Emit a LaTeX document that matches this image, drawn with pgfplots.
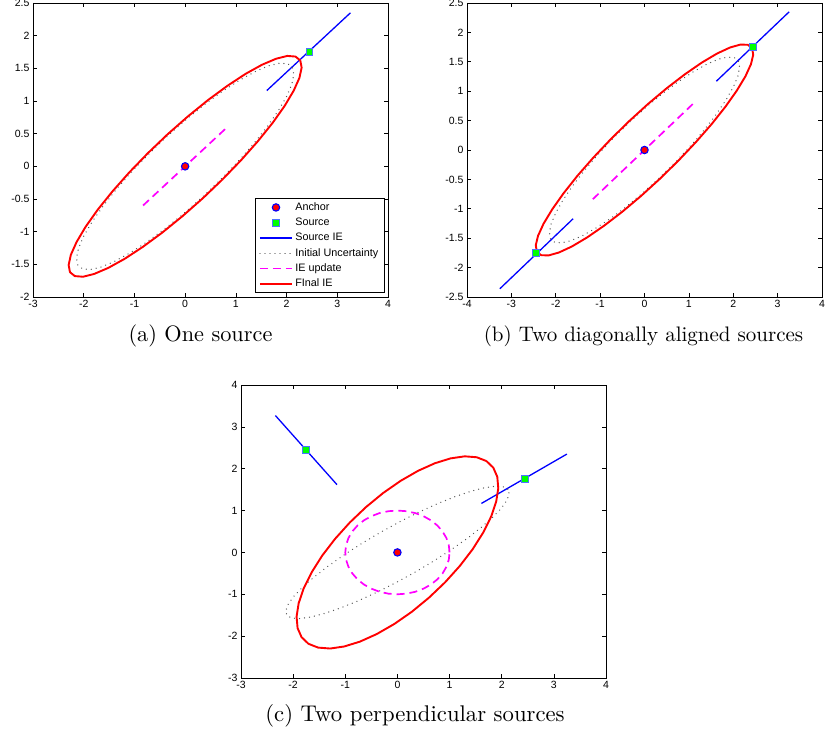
\documentclass[border=0pt]{standalone}
\usepackage{pgfplots}
\pgfplotsset{compat=1.18}
\usepackage{pgfplotstable}
\usepackage{fontspec}
\setsansfont{Liberation Sans}
\definecolor{mred}{rgb}{1,0,0}
\definecolor{mblue}{rgb}{0,0,1}
\definecolor{mmag}{rgb}{1,0,1}
\definecolor{mgreen}{rgb}{0,1,0}
\definecolor{medge}{rgb}{0.3,0.45,1}

% initial uncertainty ellipse
\pgfplotstableread{
x y
2.117 1.510
2.026 1.569
1.874 1.580
1.665 1.544
1.405 1.460
1.103 1.332
0.767 1.164
0.407 0.960
0.036 0.727
-0.337 0.472
-0.699 0.203
-1.040 -0.073
-1.350 -0.346
-1.619 -0.609
-1.838 -0.853
-2.002 -1.071
-2.104 -1.257
-2.143 -1.405
-2.117 -1.510
-2.026 -1.569
-1.874 -1.580
-1.665 -1.544
-1.405 -1.460
-1.103 -1.332
-0.767 -1.164
-0.407 -0.960
-0.036 -0.727
0.337 -0.472
0.699 -0.203
1.040 0.073
1.350 0.346
1.619 0.609
1.838 0.853
2.002 1.071
2.104 1.257
2.143 1.405
2.117 1.510
}\initell

\pgfplotsset{
  myax/.style={scale only axis, tick align=inside, tick pos=both,
    major tick length=4pt, axis line style={line width=0.8pt},
    every tick/.style={black, line width=0.6pt},
    ticklabel style={font=\sffamily\fontsize{10.5}{12}\selectfont},
    /pgf/number format/assume math mode=true,
    legend image code/.code={\draw[mark repeat=2,mark phase=2,##1] plot coordinates {(0pt,0pt) (16pt,0pt) (32pt,0pt)};}},
  anchorst/.style={only marks, mark=*, mark size=3.7pt, mark options={fill=mred, draw=mblue, line width=1.1pt}},
  sourcest/.style={only marks, mark=square*, mark size=3.3pt, mark options={fill=mgreen, draw=medge, line width=1pt}},
  sieS/.style={mblue, line width=1.3pt},
  initS/.style={black!65, line width=1.4pt, line cap=round, dash pattern=on 0.01pt off 5pt},
  updS/.style={mmag, line width=1.7pt, dash pattern=on 8pt off 5pt},
  finS/.style={mred, line width=1.9pt, line join=round},
}

\begin{document}
\begin{tikzpicture}
\useasboundingbox (0pt,0pt) rectangle (827pt,736pt);

% (a)
\begin{axis}[myax, at={(33pt,439pt)}, anchor=south west, width=355pt, height=294pt,
  xmin=-3, xmax=4, ymin=-2, ymax=2.5, xtick={-3,-2,-1,0,1,2,3,4},
  ytick={-2,-1.5,-1,-0.5,0,0.5,1,1.5,2,2.5},
  legend cell align=left,
  legend style={at={(0.9915,0.0136)}, anchor=south east, draw=black, line width=0.8pt,
    font=\sffamily\fontsize{10.8}{12}\selectfont,
    nodes={inner sep=2.4pt, text height=8pt, text depth=2.5pt},
    inner xsep=4pt, inner ysep=1pt, row sep=0pt}]
\addplot[anchorst] coordinates {(0,0)}; \addlegendentry{Anchor}
\addplot[sourcest] coordinates {(2.45,1.75)}; \addlegendentry{Source}
\addplot[sieS] coordinates {(1.61,1.16) (3.26,2.35)}; \addlegendentry{Source IE}
\addplot[initS] table {\initell}; \addlegendentry{Initial Uncertainty}
\addplot[updS] coordinates {(-0.83,-0.6) (0.83,0.6)}; \addlegendentry{IE update}
\addplot[finS] coordinates {(2.271,1.620) (2.176,1.680) (2.015,1.690) (1.793,1.647) (1.516,1.555) (1.193,1.416) (0.834,1.233) (0.449,1.013) (0.051,0.762) (-0.348,0.489) (-0.737,0.200) (-1.104,-0.095) (-1.437,-0.387) (-1.727,-0.667) (-1.964,-0.927) (-2.141,-1.159) (-2.254,-1.355) (-2.297,-1.511) (-2.271,-1.620) (-2.176,-1.680) (-2.015,-1.690) (-1.793,-1.647) (-1.516,-1.555) (-1.193,-1.416) (-0.834,-1.233) (-0.449,-1.013) (-0.051,-0.762) (0.348,-0.489) (0.737,-0.200) (1.104,0.095) (1.437,0.387) (1.727,0.667) (1.964,0.927) (2.141,1.159) (2.254,1.355) (2.297,1.511) (2.271,1.620)}; \addlegendentry{FInal IE}
\end{axis}

% (b)
\begin{axis}[myax, at={(467pt,439pt)}, anchor=south west, width=355pt, height=294pt,
  xmin=-4, xmax=4, ymin=-2.5, ymax=2.5, xtick={-4,-3,-2,-1,0,1,2,3,4},
  ytick={-2.5,-2,-1.5,-1,-0.5,0,0.5,1,1.5,2,2.5}]
\addplot[anchorst] coordinates {(0,0)};
\addplot[sourcest] coordinates {(2.45,1.75) (-2.45,-1.75)};
\addplot[sieS] coordinates {(1.62,1.17) (3.26,2.35)};
\addplot[sieS] coordinates {(-1.61,-1.17) (-3.26,-2.36)};
\addplot[initS] table {\initell};
\addplot[updS] coordinates {(-1.165,-0.837) (1.165,0.837)};
\addplot[finS] coordinates {(2.426,1.731) (2.329,1.789) (2.161,1.793) (1.927,1.743) (1.634,1.640) (1.293,1.487) (0.911,1.288) (0.502,1.051) (0.078,0.782) (-0.348,0.489) (-0.764,0.181) (-1.157,-0.133) (-1.515,-0.442) (-1.826,-0.738) (-2.082,-1.012) (-2.275,-1.254) (-2.399,-1.459) (-2.450,-1.619) (-2.426,-1.731) (-2.329,-1.789) (-2.161,-1.793) (-1.927,-1.743) (-1.634,-1.640) (-1.293,-1.487) (-0.911,-1.288) (-0.502,-1.051) (-0.078,-0.782) (0.348,-0.489) (0.764,-0.181) (1.157,0.133) (1.515,0.442) (1.826,0.738) (2.082,1.012) (2.275,1.254) (2.399,1.459) (2.450,1.619) (2.426,1.731)};
\end{axis}

% (c)
\begin{axis}[myax, at={(241pt,58pt)}, anchor=south west, width=365pt, height=293pt,
  xmin=-3, xmax=4, ymin=-3, ymax=4, xtick={-3,-2,-1,0,1,2,3,4},
  ytick={-3,-2,-1,0,1,2,3,4}]
\addplot[anchorst] coordinates {(0,0)};
\addplot[sourcest] coordinates {(2.45,1.75) (-1.75,2.44)};
\addplot[sieS] coordinates {(1.61,1.17) (3.25,2.35)};
\addplot[sieS] coordinates {(-1.16,1.62) (-2.34,3.27)};
\addplot[initS] table {\initell};
\addplot[updS] coordinates {(1,0) (0.985,0.174) (0.940,0.342) (0.866,0.5) (0.766,0.643) (0.643,0.766) (0.5,0.866) (0.342,0.940) (0.174,0.985) (0,1) (-0.174,0.985) (-0.342,0.940) (-0.5,0.866) (-0.643,0.766) (-0.766,0.643) (-0.866,0.5) (-0.940,0.342) (-0.985,0.174) (-1,0) (-0.985,-0.174) (-0.940,-0.342) (-0.866,-0.5) (-0.766,-0.643) (-0.643,-0.766) (-0.5,-0.866) (-0.342,-0.940) (-0.174,-0.985) (0,-1) (0.174,-0.985) (0.342,-0.940) (0.5,-0.866) (0.643,-0.766) (0.766,-0.643) (0.866,-0.5) (0.940,-0.342) (0.985,-0.174) (1,0)};
\addplot[finS] coordinates {(1.706,2.183) (1.521,2.274) (1.290,2.296) (1.020,2.247) (0.719,2.131) (0.396,1.950) (0.061,1.710) (-0.276,1.418) (-0.604,1.082) (-0.914,0.714) (-1.196,0.324) (-1.442,-0.075) (-1.644,-0.473) (-1.797,-0.856) (-1.894,-1.213) (-1.934,-1.533) (-1.915,-1.807) (-1.838,-2.026) (-1.706,-2.183) (-1.521,-2.274) (-1.290,-2.296) (-1.020,-2.247) (-0.719,-2.131) (-0.396,-1.950) (-0.061,-1.710) (0.276,-1.418) (0.604,-1.082) (0.914,-0.714) (1.196,-0.324) (1.442,0.075) (1.644,0.473) (1.797,0.856) (1.894,1.213) (1.934,1.533) (1.915,1.807) (1.838,2.026) (1.706,2.183)};
\end{axis}

\node[font=\fontsize{10}{12}\selectfont, scale=2.23, anchor=base] at (200.5pt,394pt) {(a) One source};
\node[font=\fontsize{10}{12}\selectfont, scale=2.1, anchor=base] at (643.5pt,394pt) {(b) Two diagonally aligned sources};
\node[font=\fontsize{10}{12}\selectfont, scale=2.27, anchor=base] at (415pt,14pt) {(c) Two perpendicular sources};
\end{tikzpicture}
\end{document}
